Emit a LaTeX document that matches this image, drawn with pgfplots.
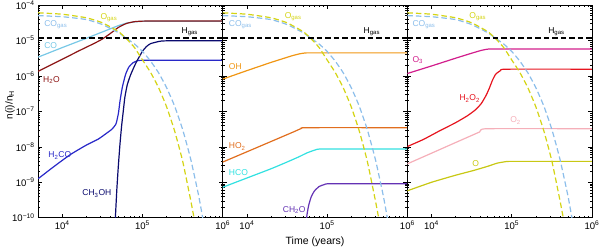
\documentclass[border=0pt]{standalone}
\usepackage{fontspec}
\setmainfont{Liberation Sans}
\usepackage{pgfplots}
\pgfplotsset{compat=1.18}
\usepgfplotslibrary{groupplots}
\usepackage{pgfplotstable}

\definecolor{ogas}{RGB}{212,212,20}
\definecolor{cogas}{RGB}{140,190,235}
\definecolor{co}{RGB}{120,200,230}
\definecolor{h2o}{RGB}{140,20,20}
\definecolor{h2co}{RGB}{40,40,200}
\definecolor{ch3oh}{RGB}{10,10,110}
\definecolor{oh}{RGB}{240,150,20}
\definecolor{ho2}{RGB}{225,110,30}
\definecolor{hco}{RGB}{50,225,225}
\definecolor{ch2o}{RGB}{100,50,180}
\definecolor{othree}{RGB}{210,30,140}
\definecolor{h2o2}{RGB}{230,20,30}
\definecolor{otwo}{RGB}{245,175,185}
\definecolor{oatom}{RGB}{200,200,20}

\pgfplotstableread{
t n
5000 6.03e-5
10000 5.50e-5
19953 4.37e-5
31623 3.16e-5
50119 1.78e-5
63096 1.12e-5
79433 6.31e-6
100000 2.82e-6
125893 1.26e-6
158489 4.68e-7
199526 1.35e-7
251189 2.82e-8
316228 3.98e-9
398107 3.16e-10
446684 7.94e-11
}\Ogas

\pgfplotstableread{
t n
5000 5.01e-5
10000 4.68e-5
19953 3.89e-5
31623 2.82e-5
50119 1.66e-5
63096 1.15e-5
79433 7.94e-6
100000 4.90e-6
125893 2.63e-6
158489 1.23e-6
199526 4.68e-7
251189 1.41e-7
316228 3.09e-8
398107 4.57e-9
501187 4.17e-10
575440 7.41e-11
}\COgas

\newcommand\lbl{\fontsize{8.5}{10}\selectfont}
\newcommand\gaslines{%
  \addplot[cogas, dash pattern=on 5.5pt off 3pt, smooth, tension=0.3] table[x=t,y=n] {\COgas};
  \addplot[ogas, dash pattern=on 5.5pt off 3pt, smooth, tension=0.3] table[x=t,y=n] {\Ogas};
  \addplot[black, dash pattern=on 5.5pt off 3pt] coordinates {(5000,1.17e-5) (1000000,1.17e-5)};
}

\begin{document}
\begin{tikzpicture}
\begin{groupplot}[
  group style={group size=3 by 1, horizontal sep=0pt},
  width=184pt, height=212pt, scale only axis,
  xmode=log, ymode=log, xmin=5000, xmax=1e6, ymin=1e-10, ymax=1e-4,
  xtick={1e4,1e5,1e6},
  xticklabels={10\textsuperscript{4},10\textsuperscript{5},10\textsuperscript{6}},
  ytick={1e-10,1e-9,1e-8,1e-7,1e-6,1e-5,1e-4},
  yticklabels={},
  tick align=inside, major tick length=4pt, minor tick length=2pt,
  axis line style={line width=0.9pt},
  every tick/.append style={line width=0.6pt, black},
  tick label style={font=\fontsize{9.5}{11}\selectfont},
  label style={font=\fontsize{10.5}{12}\selectfont},
  every axis plot/.append style={line width=1.2pt},
]
%%%%%%%%%%%%%%%% panel 1
\nextgroupplot[
  yticklabels={10\textsuperscript{−10},10\textsuperscript{−9},10\textsuperscript{−8},10\textsuperscript{−7},10\textsuperscript{−6},10\textsuperscript{−5},10\textsuperscript{−4}},
  ylabel={n(i)/n\textsubscript{H}},
  every axis y label/.style={at={(axis description cs:-0.152,0.53)}, rotate=90, anchor=center},
]
\addplot[co] coordinates {(5000,3.39e-6) (10000,6.31e-6) (19953,1.15e-5) (31623,1.74e-5) (39811,2.14e-5) (50119,2.63e-5) (63096,3.09e-5) (79433,3.35e-5) (100000,3.47e-5) (1000000,3.47e-5)};
\addplot[h2o, smooth, tension=0.3] coordinates {(5000,1.35e-6) (10000,2.95e-6) (15849,5.01e-6) (25119,8.32e-6) (31623,1.10e-5) (39811,1.58e-5) (50119,2.34e-5) (63096,3.02e-5) (79433,3.39e-5) (100000,3.51e-5) (158489,3.55e-5) (1000000,3.55e-5)};
\addplot[h2co, smooth, tension=0.3] coordinates {(5000,1.26e-9) (7943,2.82e-9) (12589,6.03e-9) (19953,1.12e-8) (28184,1.66e-8) (35481,2.40e-8) (41687,3.16e-8) (46774,4.47e-8) (50119,8.91e-8) (52481,2.00e-7) (56234,5.01e-7) (61660,1.12e-6) (67608,1.78e-6) (75858,2.34e-6) (85114,2.63e-6) (100000,2.75e-6) (1000000,2.75e-6)};
\addplot[ch3oh, smooth, tension=0.3] coordinates {(45186,5.0e-11) (47863,6.31e-10) (50119,3.16e-9) (52481,1.26e-8) (54954,3.98e-8) (57544,1.0e-7) (60256,2.51e-7) (64565,5.62e-7) (70795,1.05e-6) (79433,1.91e-6) (85114,2.63e-6) (93325,3.80e-6) (100000,5.01e-6) (112202,6.76e-6) (125893,8.13e-6) (158489,9.33e-6) (199526,9.77e-6) (1000000,9.77e-6)};
\gaslines
\node[anchor=west, inner sep=0, text=ogas, font=\lbl] at (axis cs:29800,4.27e-5) {O\textsubscript{gas}};
\node[anchor=west, inner sep=0, text=cogas, font=\lbl] at (axis cs:5940,2.72e-5) {CO\textsubscript{gas}};
\node[anchor=west, inner sep=0, text=co, font=\lbl] at (axis cs:5940,7.4e-6) {CO};
\node[anchor=west, inner sep=0, text=black, font=\lbl] at (axis cs:306000,1.72e-5) {H\textsubscript{gas}};
\node[anchor=west, inner sep=0, text=h2o, font=\lbl] at (axis cs:5750,7.6e-7) {H\textsubscript{2}O};
\node[anchor=west, inner sep=0, text=h2co, font=\lbl] at (axis cs:6670,5.7e-9) {H\textsubscript{2}CO};
\node[anchor=west, inner sep=0, text=ch3oh, font=\lbl] at (axis cs:17700,4.8e-10) {CH\textsubscript{3}OH};
%%%%%%%%%%%%%%%% panel 2
\nextgroupplot[xlabel={Time (years)}]
\addplot[oh, smooth, tension=0.3] coordinates {(5000,8.13e-7) (10000,1.41e-6) (19953,2.40e-6) (35481,3.63e-6) (44668,4.17e-6) (52481,4.42e-6) (63096,4.47e-6) (1000000,4.47e-6)};
\addplot[ho2, smooth, tension=0.3] coordinates {(5000,3.72e-9) (10000,7.24e-9) (19953,1.41e-8) (39811,2.75e-8) (47863,3.31e-8) (56234,3.47e-8) (1000000,3.47e-8)};
\addplot[hco, smooth, tension=0.3] coordinates {(5000,7.24e-10) (10000,1.32e-9) (19953,2.40e-9) (31623,3.72e-9) (44668,5.25e-9) (56234,6.76e-9) (70795,8.13e-9) (89125,8.71e-9) (1000000,8.71e-9)};
\addplot[ch2o, smooth, tension=0.3] coordinates {(54954,7.94e-11) (56234,1.26e-10) (58884,2.24e-10) (63096,3.80e-10) (69183,5.62e-10) (79433,7.59e-10) (93325,8.71e-10) (112202,9.12e-10) (1000000,9.12e-10)};
\gaslines
\node[anchor=west, inner sep=0, text=ogas, font=\lbl] at (axis cs:29500,4.57e-5) {O\textsubscript{gas}};
\node[anchor=west, inner sep=0, text=cogas, font=\lbl] at (axis cs:5940,2.72e-5) {CO\textsubscript{gas}};
\node[anchor=west, inner sep=0, text=black, font=\lbl] at (axis cs:284000,1.72e-5) {H\textsubscript{gas}};
\node[anchor=west, inner sep=0, text=oh, font=\lbl] at (axis cs:5940,1.87e-6) {OH};
\node[anchor=west, inner sep=0, text=ho2, font=\lbl] at (axis cs:5940,1.02e-8) {HO\textsubscript{2}};
\node[anchor=west, inner sep=0, text=hco, font=\lbl] at (axis cs:5940,1.87e-9) {HCO};
\node[anchor=west, inner sep=0, text=ch2o, font=\lbl] at (axis cs:27900,1.68e-10) {CH\textsubscript{2}O};
%%%%%%%%%%%%%%%% panel 3
\nextgroupplot
\addplot[othree, smooth, tension=0.3] coordinates {(5000,1.17e-6) (10000,1.91e-6) (19953,3.16e-6) (31623,4.37e-6) (41687,5.25e-6) (50119,5.69e-6) (63096,5.75e-6) (1000000,5.75e-6)};
\addplot[h2o2, smooth, tension=0.3] coordinates {(5000,1.02e-8) (7943,1.62e-8) (12589,2.82e-8) (19953,4.79e-8) (28184,7.59e-8) (35481,1.12e-7) (41687,1.66e-7) (47863,2.82e-7) (52481,4.47e-7) (57544,7.59e-7) (63096,1.12e-6) (72444,1.41e-6) (85114,1.55e-6) (1000000,1.55e-6)};
\addplot[otwo, smooth, tension=0.3] coordinates {(5000,3.31e-9) (10000,6.61e-9) (19953,1.32e-8) (39811,2.63e-8) (48978,3.24e-8) (1000000,3.24e-8)};
\addplot[oatom, smooth, tension=0.3] coordinates {(5000,5.75e-10) (10000,1.0e-9) (19953,1.58e-9) (33113,2.14e-9) (50119,2.82e-9) (66069,3.47e-9) (83176,3.80e-9) (100000,3.89e-9) (1000000,3.89e-9)};
\gaslines
\node[anchor=west, inner sep=0, text=ogas, font=\lbl] at (axis cs:29500,4.57e-5) {O\textsubscript{gas}};
\node[anchor=west, inner sep=0, text=cogas, font=\lbl] at (axis cs:5770,2.72e-5) {CO\textsubscript{gas}};
\node[anchor=west, inner sep=0, text=black, font=\lbl] at (axis cs:284000,1.72e-5) {H\textsubscript{gas}};
\node[anchor=west, inner sep=0, text=othree, font=\lbl] at (axis cs:5770,2.77e-6) {O\textsubscript{3}};
\node[anchor=west, inner sep=0, text=h2o2, font=\lbl] at (axis cs:22200,2.33e-7) {H\textsubscript{2}O\textsubscript{2}};
\node[anchor=west, inner sep=0, text=otwo, font=\lbl] at (axis cs:95500,5.56e-8) {O\textsubscript{2}};
\node[anchor=west, inner sep=0, text=oatom, font=\lbl] at (axis cs:32200,3.37e-9) {O};
\end{groupplot}
\pgfresetboundingbox
\path[use as bounding box] ([shift={(-38pt,-30pt)}]group c1r1.south west) rectangle ([shift={(8pt,5pt)}]group c3r1.north east);
\end{tikzpicture}
\end{document}
